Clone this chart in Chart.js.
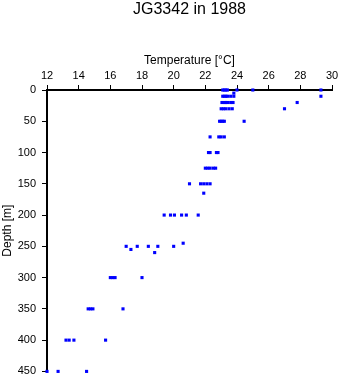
<!DOCTYPE html>
<html>
<head>
<meta charset="utf-8">
<script src="https://cdn.jsdelivr.net/npm/chart.js@4"></script>
<style>
  html, body { margin: 0; padding: 0; background: #fff; }
  #wrap { width: 341px; height: 384px; }
</style>
</head>
<body>
<div id="wrap"><canvas id="profile"></canvas></div>
<script>
// depth [m] and temperature [°C] for each sample
var depths = [
    0, 0, 0, 0, 0, 0, 0,
    5,
    10, 10, 10, 10, 10, 10, 10,
    20, 20, 20, 20, 20, 20, 20,
    30, 30, 30, 30, 30, 30,
    50, 50, 50, 50, 50,
    75, 75, 75, 75,
    100, 100, 100, 100,
    125, 125, 125, 125, 125,
    150, 150, 150, 150, 150,
    165,
    200, 200, 200, 200, 200, 200,
    245,
    250, 250, 250, 250, 250,
    255, 260,
    300, 300, 300, 300,
    350, 350, 350, 350,
    400, 400, 400, 400,
    450, 450, 450
];
var temps = [
    23.1, 23.2, 23.3, 23.4, 24.0, 25.0, 29.3,
    23.8,
    23.1, 23.2, 23.3, 23.4, 23.6, 23.8, 29.3,
    23.05, 23.2, 23.3, 23.4, 23.6, 23.75, 27.8,
    23.0, 23.15, 23.3, 23.5, 23.7, 27.0,
    22.9, 23.0, 23.1, 23.2, 24.45,
    22.3, 22.85, 23.0, 23.2,
    22.2, 22.3, 22.7, 22.8,
    22.0, 22.15, 22.3, 22.5, 22.65,
    21.0, 21.7, 21.9, 22.1, 22.3,
    21.9,
    19.4, 19.8, 20.05, 20.5, 20.8, 21.55,
    20.6,
    17.0, 17.7, 18.4, 19.0, 20.0,
    17.3, 18.8,
    16.0, 16.15, 16.3, 18.0,
    14.6, 14.75, 14.9, 16.8,
    13.2, 13.4, 13.7, 15.7,
    12.0, 12.7, 14.5
];
var tempTicks = [12, 14, 16, 18, 20, 22, 24, 26, 28, 30];
var depthTicks = [0, 50, 100, 150, 200, 250, 300, 350, 400, 450];
var titleText = 'JG3342 in 1988';

var points = temps.map(function (t, i) {
    return { x: t, y: depths[i] };
});

var font = 'Liberation Sans, Arial, Helvetica, sans-serif';

// title centred over the plot area rather than the whole canvas
var plotTitle = {
    id: 'plotTitle',
    afterDraw: function (chart) {
        var c = chart.ctx;
        var area = chart.chartArea;
        c.save();
        c.fillStyle = '#000';
        c.font = '16px ' + font;
        c.textAlign = 'center';
        c.textBaseline = 'middle';
        c.fillText(titleText, (area.left + area.right) / 2, 10);
        c.restore();
    }
};

var ctx = document.getElementById('profile').getContext('2d');
var chart = new Chart(ctx, {
    type: 'scatter',
    data: {
        datasets: [{
            data: points,
            backgroundColor: '#0000ff',
            borderWidth: 0,
            pointStyle: 'rect',
            pointRadius: 2.2,
            clip: false
        }]
    },
    options: {
        responsive: true,
        maintainAspectRatio: false,
        animation: false,
        layout: { padding: { left: 0, right: 9, top: 53, bottom: 9 } },
        plugins: {
            legend: { display: false },
            tooltip: { enabled: false },
            title: { display: false }
        },
        scales: {
            x: {
                type: 'linear',
                position: 'top',
                min: tempTicks[0],
                max: tempTicks[tempTicks.length - 1],
                afterBuildTicks: function (scale) {
                    scale.ticks = tempTicks.map(function (v) { return { value: v }; });
                },
                afterFit: function (scale) { scale.height = 37; },
                ticks: {
                    color: '#000',
                    font: { family: font, size: 11 },
                    padding: 2,
                    maxRotation: 0
                },
                grid: {
                    drawOnChartArea: false,
                    drawTicks: true,
                    tickLength: 5,
                    tickColor: '#000',
                    lineWidth: 1
                },
                border: { display: true, color: '#000', width: 2 },
                title: {
                    display: true,
                    text: 'Temperature [°C]',
                    color: '#000',
                    font: { family: font, size: 12 },
                    padding: { top: 0, bottom: 0 }
                }
            },
            y: {
                type: 'linear',
                reverse: true,
                min: depthTicks[0],
                max: depthTicks[depthTicks.length - 1],
                afterBuildTicks: function (scale) {
                    scale.ticks = depthTicks.map(function (v) { return { value: v }; });
                },
                afterFit: function (scale) { scale.width = 47; },
                ticks: {
                    color: '#000',
                    font: { family: font, size: 11 },
                    padding: 6
                },
                grid: {
                    drawOnChartArea: false,
                    drawTicks: true,
                    tickLength: 5,
                    tickColor: '#000',
                    lineWidth: 1
                },
                border: { display: true, color: '#000', width: 2 },
                title: {
                    display: true,
                    text: 'Depth [m]',
                    color: '#000',
                    font: { family: font, size: 12 },
                    padding: { top: 0, bottom: 0 }
                }
            }
        }
    },
    plugins: [plotTitle]
});
</script>
</body>
</html>
